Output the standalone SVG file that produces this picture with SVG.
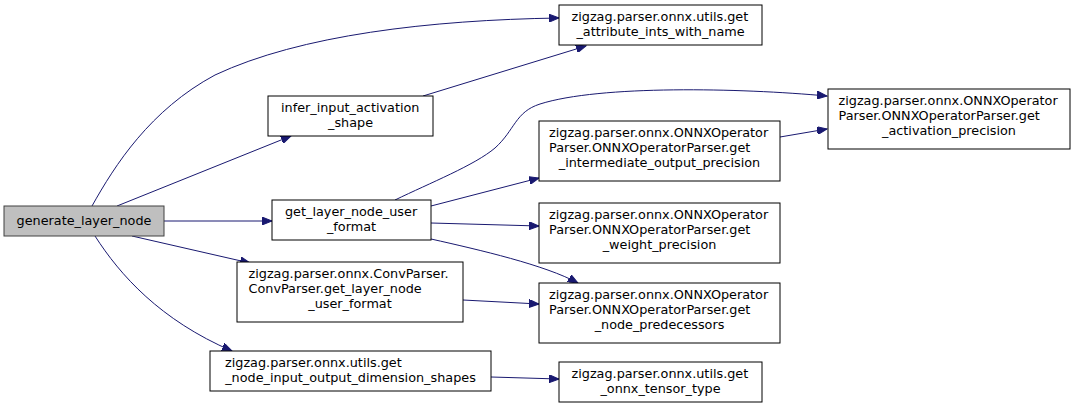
<svg xmlns="http://www.w3.org/2000/svg" width="1077" height="409" viewBox="0 0 1077 409">
<style>
.n rect{fill:#ffffff;stroke:#000000;stroke-width:1}
.n.cur rect{fill:#bfbfbf;stroke:#404040}
.n text{font-family:"DejaVu Sans",sans-serif;font-size:12.8px;fill:#000000}
.m{text-anchor:middle}
.e path{fill:none;stroke:#191970;stroke-width:1;marker-end:url(#ah)}
</style>
<defs>
<marker id="ah" markerUnits="userSpaceOnUse" markerWidth="11" markerHeight="8" refX="10" refY="4" orient="auto">
<path d="M0,0 L10,4 L0,8 z" fill="#191970" stroke="#191970"/>
</marker>
</defs>
<rect width="1077" height="409" fill="#ffffff"/>
<g class="e" id="edges">
<path d="M92,206 C115,165 150,110 215,75 C300,35 430,20 559,18"/>
<path d="M117,206 L291,136"/>
<path d="M423,96 L586,46"/>
<path d="M164,221 L272,221"/>
<path d="M132,236 L250,263"/>
<path d="M95,236 C120,275 160,320 232,351"/>
<path d="M395,200 C430,183 475,165 495,148 C515,130 515,112 540,104 C600,85 740,88 827,96"/>
<path d="M431,206 L539,178"/>
<path d="M431,223 L539,226"/>
<path d="M431,239 C480,250 545,265 578,283"/>
<path d="M463,300 L539,304"/>
<path d="M780,137 L827,129"/>
<path d="M491,377 L559,379"/>
</g>
<g class="n cur" id="generate_layer_node">
<rect x="4" y="206" width="160" height="30"/>
<text x="84" y="225" class="m">generate_layer_node</text>
</g>
<g class="n" id="infer_input_activation_shape">
<rect x="268" y="96" width="165" height="40"/>
<text x="281" y="112">infer_input_activation</text>
<text x="350.5" y="127" class="m">_shape</text>
</g>
<g class="n" id="get_layer_node_user_format">
<rect x="272" y="200" width="159" height="40"/>
<text x="285" y="216">get_layer_node_user</text>
<text x="351.5" y="231" class="m">_format</text>
</g>
<g class="n" id="conv_get_layer_node_user_format">
<rect x="237" y="262" width="226" height="60"/>
<text x="248.5" y="278">zigzag.parser.onnx.ConvParser.</text>
<text x="248.5" y="293">ConvParser.get_layer_node</text>
<text x="350" y="308" class="m">_user_format</text>
</g>
<g class="n" id="get_node_input_output_dimension_shapes">
<rect x="210" y="351" width="281" height="40"/>
<text x="225" y="367">zigzag.parser.onnx.utils.get</text>
<text x="350.5" y="382" class="m">_node_input_output_dimension_shapes</text>
</g>
<g class="n" id="get_attribute_ints_with_name">
<rect x="559" y="5" width="203" height="40"/>
<text x="571.5" y="21">zigzag.parser.onnx.utils.get</text>
<text x="660.5" y="36" class="m">_attribute_ints_with_name</text>
</g>
<g class="n" id="get_intermediate_output_precision">
<rect x="539" y="121" width="241" height="60"/>
<text x="549" y="137">zigzag.parser.onnx.ONNXOperator</text>
<text x="549" y="152">Parser.ONNXOperatorParser.get</text>
<text x="659.5" y="167" class="m">_intermediate_output_precision</text>
</g>
<g class="n" id="get_weight_precision">
<rect x="539" y="203" width="241" height="60"/>
<text x="549" y="219">zigzag.parser.onnx.ONNXOperator</text>
<text x="549" y="234">Parser.ONNXOperatorParser.get</text>
<text x="659.5" y="249" class="m">_weight_precision</text>
</g>
<g class="n" id="get_node_predecessors">
<rect x="539" y="283" width="241" height="60"/>
<text x="549" y="299">zigzag.parser.onnx.ONNXOperator</text>
<text x="549" y="314">Parser.ONNXOperatorParser.get</text>
<text x="659.5" y="329" class="m">_node_predecessors</text>
</g>
<g class="n" id="get_onnx_tensor_type">
<rect x="559" y="362" width="203" height="40"/>
<text x="571.5" y="378">zigzag.parser.onnx.utils.get</text>
<text x="660.5" y="393" class="m">_onnx_tensor_type</text>
</g>
<g class="n" id="get_activation_precision">
<rect x="828" y="89" width="242" height="60"/>
<text x="838.5" y="105">zigzag.parser.onnx.ONNXOperator</text>
<text x="838.5" y="120">Parser.ONNXOperatorParser.get</text>
<text x="949" y="135" class="m">_activation_precision</text>
</g>
</svg>
